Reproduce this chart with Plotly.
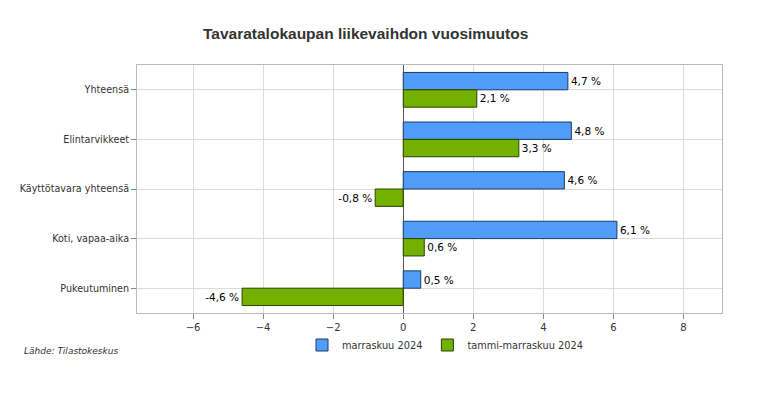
import plotly.graph_objects as go

categories = ["Yhteensä", "Elintarvikkeet", "Käyttötavara yhteensä", "Koti, vapaa-aika", "Pukeutuminen"]
marraskuu_2024 = [4.7, 4.8, 4.6, 6.1, 0.5]
tammi_marraskuu_2024 = [2.1, 3.3, -0.8, 0.6, -4.6]
series_names = ["marraskuu 2024", "tammi-marraskuu 2024"]
x_ticks = [-6, -4, -2, 0, 2, 4, 6, 8]

# page has an 8px body margin; compensate
OFF = 8
W, H = 766 - OFF, 393 - OFF
L, R, T, B = 137 - OFF, 44, 65 - OFF, 80
PW, PH = W - L - R, H - T - B

def fmt(v):
    return f"{v:.1f}".replace(".", ",") + " %"

font_main = "DejaVu Sans"

fig = go.Figure()
fig.add_trace(go.Bar(
    y=categories, x=marraskuu_2024, orientation="h", name=series_names[0],
    marker=dict(color="#4f9cf9", line=dict(color="#1f3a66", width=1)),
    text=[fmt(v) for v in marraskuu_2024], textposition="outside",
    textfont=dict(family=font_main, size=10.5, color="#000"), cliponaxis=False,
))
fig.add_trace(go.Bar(
    y=categories, x=tammi_marraskuu_2024, orientation="h", name=series_names[1],
    marker=dict(color="#74b000", line=dict(color="#2b4200", width=1)),
    text=[fmt(v) for v in tammi_marraskuu_2024], textposition="outside",
    textfont=dict(family=font_main, size=10.5, color="#000"), cliponaxis=False,
))

fig.update_layout(
    width=W, height=H,
    margin=dict(l=L, r=R, t=T, b=B),
    paper_bgcolor="white", plot_bgcolor="white",
    barmode="group", bargap=0.3, bargroupgap=0,
    font=dict(family=font_main, size=10, color="#333"),
    showlegend=True,
    legend=dict(orientation="h", x=(445 - 137) / PW, xanchor="center", y=-(345 - 313) / PH, yanchor="middle",
                font=dict(family=font_main, size=9.8, color="#333"), traceorder="normal"),
    xaxis=dict(range=[-7.6, 9.1], tickvals=x_ticks, showgrid=True, gridcolor="#dcdcdc",
               zeroline=True, zerolinecolor="#555", zerolinewidth=1,
               showline=True, linecolor="#bbb", mirror=True,
               ticks="outside", ticklen=5, tickcolor="#888",
               tickfont=dict(family=font_main, size=10, color="#333")),
    yaxis=dict(autorange="reversed", showgrid=True, gridcolor="#dcdcdc",
               showline=True, linecolor="#bbb", mirror=True,
               ticks="outside", ticklen=5, tickcolor="#888",
               tickfont=dict(family=font_main, size=9.6, color="#333")),
    annotations=[
        dict(text="<b>Tavaratalokaupan liikevaihdon vuosimuutos</b>", xref="paper", yref="paper",
             x=(365 - 137) / PW, y=1 + (65 - 33) / PH, xanchor="center", yanchor="middle",
             showarrow=False, font=dict(family="Liberation Sans", size=15.5, color="#333")),
        dict(text="<i>Lähde: Tilastokeskus</i>", xref="paper", yref="paper",
             x=(22 - 137) / PW, y=-(351 - 313) / PH, xanchor="left", yanchor="middle",
             showarrow=False, font=dict(family=font_main, size=9, color="#333")),
    ],
)

fig.write_html("out.html")
